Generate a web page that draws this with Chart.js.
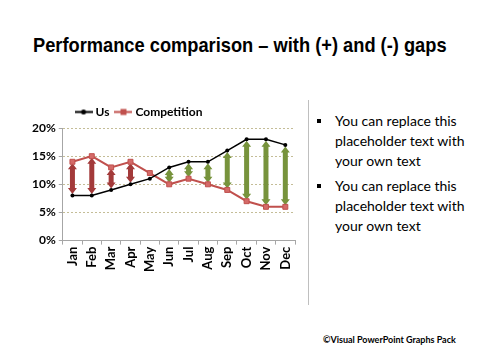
<!DOCTYPE html>
<html>
<head>
<meta charset="utf-8">
<script src="https://cdn.jsdelivr.net/npm/chart.js@4/dist/chart.umd.min.js"></script>
<style>
  html, body { margin: 0; padding: 0; background: #fff; }
  #page { position: relative; width: 480px; height: 360px; overflow: hidden; }
  #title {
    position: absolute; left: 33px; top: 33px; white-space: nowrap; transform-origin: 0 0;
    font-family: "Liberation Sans", Arial, sans-serif;
    font-weight: bold; font-size: 21px; color: #000;
  }
  #chartBox { position: absolute; left: 29px; top: 98px; width: 276px; height: 176px; }
  #divider { position: absolute; left: 308px; top: 100px; width: 1px; height: 205px; background: #bfbfbf; }
  #notes {
    position: absolute; left: 316px; top: 111px; width: 165px; margin: 0; padding: 0;
    list-style: none; font-family: Lato, sans-serif; font-size: 14px; line-height: 20px; color: #000;
  }
  #notes li { position: relative; padding-left: 19px; margin-bottom: 5px; }
  #notes li::before {
    content: ""; position: absolute; left: 1px; top: 8px; width: 4px; height: 4px; background: #000;
  }
  #footer {
    position: absolute; left: 323px; top: 334px; white-space: nowrap;
    font-family: Lato, sans-serif; font-weight: bold; font-size: 9px; color: #000;
  }
</style>
</head>
<body>
<div id="page">
  <div id="title">Performance comparison – with (+) and (-) gaps</div>
  <div id="chartBox"><canvas id="myChart"></canvas></div>
  <div id="divider"></div>
  <ul id="notes">
    <li>You can replace this placeholder text with your own text</li>
    <li>You can replace this placeholder text with your own text</li>
  </ul>
  <div id="footer">©Visual PowerPoint Graphs Pack</div>
</div>
<script>
// data (percent)
const months = ['Jan', 'Feb', 'Mar', 'Apr', 'May', 'Jun', 'Jul', 'Aug', 'Sep', 'Oct', 'Nov', 'Dec'];
const us = [8, 8, 9, 10, 11, 13, 14, 14, 16, 18, 18, 17];
const competition = [14, 15, 13, 14, 12, 10, 11, 10, 9, 7, 6, 6];
const yTicks = [0, 5, 10, 15, 20];

const usColor = '#000000';
const compColor = '#C0504D';
const behindColor = '#A33A3A';
const aheadColor = '#77933C';

// squeeze the title into a condensed look
const title = document.getElementById('title');
title.style.transform = 'scaleX(' + (414 / title.offsetWidth) + ')';

// legend swatch: short line with the marker in the middle
function swatch(color, marker) {
    const c = document.createElement('canvas');
    c.width = 18; c.height = 9;
    const g = c.getContext('2d');
    g.strokeStyle = color; g.lineWidth = 2;
    g.beginPath(); g.moveTo(0, 4.5); g.lineTo(18, 4.5); g.stroke();
    g.fillStyle = color;
    if (marker === 'rect') g.fillRect(6, 1.5, 6, 6);
    else { g.beginPath(); g.arc(9, 4.5, 2.5, 0, Math.PI * 2); g.fill(); }
    return c;
}

// double headed arrows between the two lines
const gapArrows = {
    id: 'gapArrows',
    beforeDatasetsDraw(chart) {
        const { ctx, scales: { x, y } } = chart;
        const sw = 2.5, hw = 4.5, hl = 6, inset = 1.5;
        ctx.save();
        months.forEach((m, i) => {
            const cx = x.getPixelForValue(i);
            const y1 = y.getPixelForValue(us[i]);
            const y2 = y.getPixelForValue(competition[i]);
            const t = Math.min(y1, y2) + inset;
            const b = Math.max(y1, y2) - inset;
            if (b - t < hl * 2) return;
            ctx.fillStyle = us[i] > competition[i] ? aheadColor : behindColor;
            ctx.beginPath();
            ctx.moveTo(cx, t);
            ctx.lineTo(cx + hw, t + hl);
            ctx.lineTo(cx + sw, t + hl);
            ctx.lineTo(cx + sw, b - hl);
            ctx.lineTo(cx + hw, b - hl);
            ctx.lineTo(cx, b);
            ctx.lineTo(cx - hw, b - hl);
            ctx.lineTo(cx - sw, b - hl);
            ctx.lineTo(cx - sw, t + hl);
            ctx.lineTo(cx - hw, t + hl);
            ctx.closePath();
            ctx.fill();
        });
        ctx.restore();
    }
};

// the legend sits left of the plot centre, as in the slide
const legendShift = {
    id: 'legendShift',
    afterLayout(chart) {
        chart.legend.left -= 22;
        chart.legend.right -= 22;
    }
};

const data = {
    labels: months,
    datasets: [
        {
            label: 'Us',
            data: us,
            borderColor: usColor,
            backgroundColor: usColor,
            borderWidth: 1.5,
            pointStyle: 'circle',
            pointRadius: 2,
            pointBorderWidth: 0
        },
        {
            label: 'Competition',
            data: competition,
            borderColor: compColor,
            backgroundColor: '#D46A68',
            borderWidth: 2,
            pointStyle: 'rect',
            pointRadius: 3.5,
            pointBorderWidth: 1
        }
    ]
};

const tickFont = { family: 'Lato, sans-serif', size: 12, weight: 'bold' };

const options = {
    responsive: true,
    maintainAspectRatio: false,
    animation: false,
    layout: { padding: { left: 0, right: 10, top: 0, bottom: 0 } },
    plugins: {
        legend: {
            display: true,
            position: 'top',
            labels: {
                color: '#000',
                font: { family: 'Lato, sans-serif', size: 12, weight: 'bold' },
                usePointStyle: true,
                pointStyleWidth: 12,
                padding: 8,
                generateLabels(chart) {
                    const items = Chart.defaults.plugins.legend.labels.generateLabels(chart);
                    items.forEach((it, k) => {
                        it.pointStyle = k === 0 ? swatch(usColor, 'circle') : swatch(compColor, 'rect');
                    });
                    return items;
                }
            }
        },
        tooltip: { enabled: false }
    },
    scales: {
        x: {
            offset: true,
            grid: {
                offset: true,
                drawOnChartArea: false,
                drawTicks: true,
                tickLength: 4,
                color: '#a6a6a6'
            },
            border: { color: '#a6a6a6' },
            ticks: {
                color: '#000',
                font: { family: 'Lato, sans-serif', size: 13, weight: 'bold' },
                minRotation: 90,
                maxRotation: 90,
                padding: 2
            }
        },
        y: {
            min: 0,
            max: 20,
            afterBuildTicks(axis) { axis.ticks = yTicks.map(v => ({ value: v })); },
            grid: {
                color: ctx => ctx.tick && ctx.tick.value === 0 ? 'rgba(0,0,0,0)' : '#C4BD97',
                tickColor: '#a6a6a6',
                tickLength: 4
            },
            border: { color: '#a6a6a6', dash: [2, 2] },
            ticks: {
                color: '#000',
                font: tickFont,
                padding: 3,
                callback: v => v + '%'
            }
        }
    }
};

const config = {
    type: 'line',
    data,
    options,
    plugins: [gapArrows, legendShift]
};

const myChart = new Chart(document.getElementById('myChart'), config);
</script>
</body>
</html>
